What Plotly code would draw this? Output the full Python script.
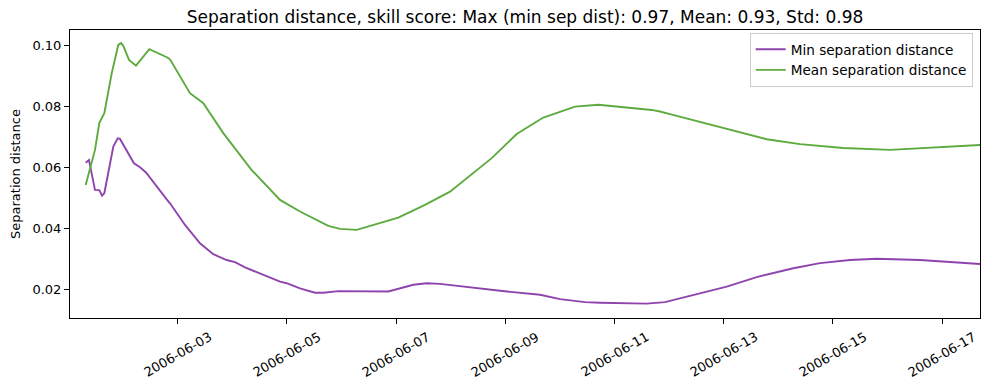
import pandas as pd
import plotly.graph_objects as go

# Time as days since 2006-06-01 00:00
base = pd.Timestamp("2006-06-01")

min_days = [0.315, 0.375, 0.485, 0.564, 0.614, 0.656, 0.821, 0.901, 0.943, 1.199, 1.310, 1.419,
            1.799, 1.859, 2.134, 2.408, 2.652, 2.897, 3.049, 3.233, 3.874, 3.996, 4.240, 4.515,
            4.667, 4.941, 5.857, 6.315, 6.560, 6.804, 8.026, 8.636, 9.002, 9.460, 9.734, 10.590,
            10.925, 12.055, 12.604, 13.275, 13.764, 14.313, 14.802, 15.595, 16.694]
min_sep = [0.0617, 0.0626, 0.0528, 0.0527, 0.0509, 0.0517, 0.0670, 0.0697, 0.0695, 0.0615, 0.0602, 0.0585,
           0.0497, 0.0484, 0.0413, 0.0353, 0.0317, 0.0298, 0.0291, 0.0274, 0.0227, 0.0222, 0.0205, 0.0191,
           0.0191, 0.0196, 0.0195, 0.0217, 0.0222, 0.0220, 0.0195, 0.0184, 0.0170, 0.0160, 0.0158, 0.0155,
           0.0160, 0.0211, 0.0242, 0.0271, 0.0288, 0.0298, 0.0302, 0.0298, 0.0285]

mean_days = [0.315, 0.485, 0.564, 0.656, 0.791, 0.912, 0.962, 1.004, 1.108, 1.236, 1.480, 1.676,
             1.810, 1.859, 2.225, 2.469, 2.835, 3.355, 3.874, 4.240, 4.758, 4.973, 5.278, 6.040,
             6.529, 6.987, 7.353, 7.751, 8.209, 8.696, 9.277, 9.703, 10.681, 10.833, 11.016, 12.788,
             13.397, 14.190, 15.046, 16.694]
mean_sep = [0.0544, 0.0659, 0.0747, 0.0779, 0.0910, 0.1003, 0.1009, 0.1000, 0.0954, 0.0935, 0.0989, 0.0974,
            0.0962, 0.0956, 0.0845, 0.0812, 0.0714, 0.0593, 0.0495, 0.0457, 0.0410, 0.0400, 0.0397, 0.0437,
            0.0479, 0.0522, 0.0574, 0.0632, 0.0711, 0.0765, 0.0801, 0.0807, 0.0790, 0.0785, 0.0776, 0.0694,
            0.0678, 0.0665, 0.0659, 0.0675]

x_tick_dates = ["2006-06-03", "2006-06-05", "2006-06-07", "2006-06-09",
                "2006-06-11", "2006-06-13", "2006-06-15", "2006-06-17"]
x_tick_labels = list(x_tick_dates)
y_tick_vals = [0.02, 0.04, 0.06, 0.08, 0.10]
y_tick_labels = ["0.02", "0.04", "0.06", "0.08", "0.10"]

title = "Separation distance, skill score: Max (min sep dist): 0.97, Mean: 0.93, Std: 0.98"

def to_time(days):
    return [base + pd.to_timedelta(d, unit="D") for d in days]

PURPLE = "#8E44AD"
GREEN = "#5DAA3F"
FONT = "DejaVu Sans"

fig = go.Figure()
fig.add_trace(go.Scatter(x=to_time(min_days), y=min_sep, mode="lines",
                         line=dict(color=PURPLE, width=1.9), name="Min separation distance"))
fig.add_trace(go.Scatter(x=to_time(mean_days), y=mean_sep, mode="lines",
                         line=dict(color=GREEN, width=1.9), name="Mean separation distance"))

x_start = base + pd.to_timedelta(0.0275, unit="D")
x_end = base + pd.to_timedelta(16.694, unit="D")

annotations = []
for d, lab in zip(x_tick_dates, x_tick_labels):
    annotations.append(dict(x=d, y=-0.028, xref="x", yref="paper", text=lab, showarrow=False,
                            textangle=-30, xanchor="center", yanchor="top",
                            font=dict(family=FONT, size=13, color="black")))

fig.update_layout(
    width=989, height=390,
    margin=dict(l=70, r=9, t=30, b=72),
    paper_bgcolor="white", plot_bgcolor="white",
    font=dict(family=FONT, size=13, color="black"),
    title=dict(text=title, x=(70 + 980) / 2 / 989, xanchor="center", y=1 - 17 / 390, yanchor="middle",
               font=dict(family=FONT, size=17, color="black")),
    showlegend=True,
    legend=dict(x=0.992, xanchor="right", y=0.99, yanchor="top",
                bgcolor="rgba(255,255,255,0.8)", bordercolor="#CCCCCC", borderwidth=1,
                font=dict(family=FONT, size=13.6, color="black"), tracegroupgap=2),
    annotations=annotations,
)
fig.update_xaxes(range=[x_start, x_end], showgrid=False, zeroline=False,
                 tickmode="array", tickvals=x_tick_dates, ticktext=["" for _ in x_tick_dates],
                 ticks="outside", ticklen=5, tickwidth=1, tickcolor="black",
                 showline=True, linecolor="black", linewidth=1, mirror=True)
fig.update_yaxes(range=[0.0108, 0.1052], showgrid=False, zeroline=False,
                 tickmode="array", tickvals=y_tick_vals, ticktext=y_tick_labels,
                 ticks="outside", ticklen=5, tickwidth=1, tickcolor="black",
                 showline=True, linecolor="black", linewidth=1, mirror=True,
                 title=dict(text="Separation distance", font=dict(family=FONT, size=13), standoff=8),
                 tickfont=dict(family=FONT, size=13))

fig.write_html("out.html", config={"displayModeBar": False},
               post_script="document.body.style.margin='0px';")
